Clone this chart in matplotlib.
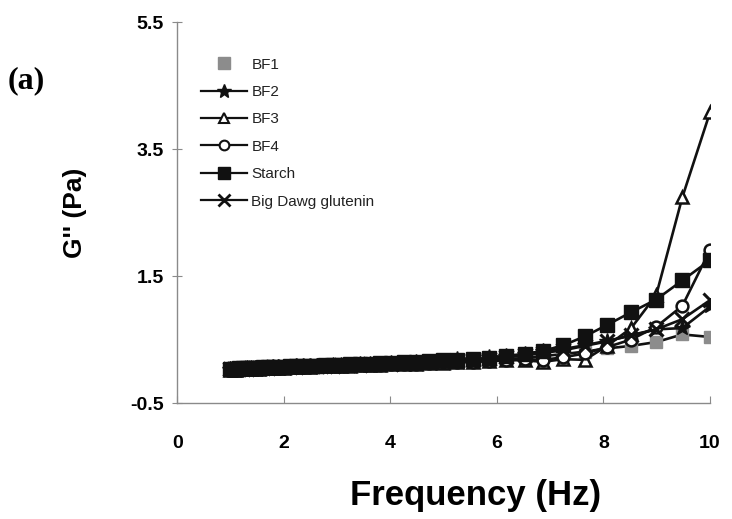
import matplotlib
matplotlib.use("Agg")
import matplotlib.pyplot as plt
from matplotlib.lines import Line2D

# frequency sweep (Hz), log spaced 1-10
freq = [1.00, 1.06, 1.11, 1.17, 1.24, 1.31, 1.38, 1.46, 1.54, 1.62, 1.71,
        1.80, 1.90, 2.01, 2.12, 2.23, 2.36, 2.49, 2.62, 2.77, 2.92, 3.08,
        3.25, 3.43, 3.62, 3.81, 4.02, 4.25, 4.48, 4.73, 4.99, 5.26, 5.55,
        5.85, 6.18, 6.52, 6.87, 7.25, 7.65, 8.07, 8.52, 8.99, 9.48, 10.00]

# G'' (Pa)
bf1 = [0.03, 0.03, 0.03, 0.035, 0.035, 0.04, 0.04, 0.045, 0.045, 0.05, 0.05,
       0.055, 0.06, 0.06, 0.065, 0.07, 0.07, 0.075, 0.08, 0.085, 0.09, 0.09,
       0.095, 0.10, 0.105, 0.11, 0.115, 0.12, 0.13, 0.135, 0.14, 0.15, 0.16,
       0.17, 0.19, 0.21, 0.24, 0.27, 0.31, 0.36, 0.40, 0.46, 0.58, 0.54]
bf2 = [0.03, 0.035, 0.035, 0.04, 0.04, 0.045, 0.045, 0.05, 0.05, 0.055, 0.055,
       0.06, 0.065, 0.065, 0.07, 0.075, 0.08, 0.08, 0.085, 0.09, 0.095, 0.10,
       0.10, 0.11, 0.115, 0.12, 0.125, 0.13, 0.14, 0.15, 0.16, 0.19, 0.17,
       0.22, 0.24, 0.27, 0.32, 0.35, 0.41, 0.48, 0.56, 0.66, 0.68, 1.02]
bf3 = [0.02, 0.025, 0.025, 0.03, 0.03, 0.035, 0.035, 0.04, 0.04, 0.045, 0.045,
       0.05, 0.05, 0.055, 0.06, 0.06, 0.065, 0.07, 0.075, 0.08, 0.08, 0.085,
       0.09, 0.095, 0.10, 0.105, 0.11, 0.115, 0.12, 0.13, 0.13, 0.14, 0.15,
       0.16, 0.18, 0.17, 0.15, 0.19, 0.18, 0.40, 0.68, 1.20, 2.74, 4.08]
bf4 = [0.025, 0.03, 0.03, 0.035, 0.035, 0.04, 0.04, 0.045, 0.045, 0.05, 0.05,
       0.055, 0.055, 0.06, 0.065, 0.065, 0.07, 0.075, 0.08, 0.08, 0.085, 0.09,
       0.095, 0.10, 0.10, 0.105, 0.11, 0.12, 0.12, 0.13, 0.14, 0.14, 0.15,
       0.16, 0.17, 0.19, 0.18, 0.22, 0.28, 0.38, 0.50, 0.70, 1.03, 1.91]
starch = [0.035, 0.04, 0.04, 0.045, 0.045, 0.05, 0.05, 0.055, 0.055, 0.06, 0.06,
          0.065, 0.07, 0.07, 0.075, 0.08, 0.085, 0.085, 0.09, 0.095, 0.10, 0.105,
          0.11, 0.115, 0.12, 0.125, 0.13, 0.14, 0.15, 0.16, 0.17, 0.18, 0.19,
          0.21, 0.24, 0.27, 0.32, 0.41, 0.55, 0.73, 0.93, 1.13, 1.43, 1.75]
glutenin = [0.03, 0.03, 0.035, 0.035, 0.04, 0.04, 0.045, 0.045, 0.05, 0.05, 0.055,
            0.06, 0.06, 0.065, 0.07, 0.07, 0.075, 0.08, 0.085, 0.09, 0.09, 0.095,
            0.10, 0.105, 0.11, 0.115, 0.12, 0.13, 0.135, 0.14, 0.15, 0.16, 0.18,
            0.19, 0.22, 0.25, 0.29, 0.33, 0.40, 0.47, 0.57, 0.66, 0.82, 1.12]

labels = ["BF1", "BF2", "BF3", "BF4", "Starch", "Big Dawg glutenin"]
xticks = [0, 2, 4, 6, 8, 10]
yticks = [-0.5, 1.5, 3.5, 5.5]

plt.rcParams['font.family'] = ['Liberation Sans', 'DejaVu Sans']

fig = plt.figure(figsize=(7.32, 5.19), dpi=100)
ax = fig.add_axes([0.242, 0.2235, 0.728, 0.734])

lw = 1.9
ms = 8.5
ax.plot(freq, bf1, color='#111111', lw=lw, marker='s', ms=ms, mfc='#8c8c8c',
        mec='#8c8c8c', zorder=2)
ax.plot(freq, bf2, color='#111111', lw=lw, marker='*', ms=ms + 3, mfc='#111111',
        mec='#111111', zorder=3)
ax.plot(freq, bf3, color='#111111', lw=lw, marker='^', ms=ms, mfc='white',
        mec='#111111', mew=1.8, zorder=3)
ax.plot(freq, bf4, color='#111111', lw=lw, marker='o', ms=ms, mfc='white',
        mec='#111111', mew=1.8, zorder=3)
ax.plot(freq, starch, color='#111111', lw=lw, marker='s', ms=ms + 1, mfc='#111111',
        mec='#111111', zorder=4)
ax.plot(freq, glutenin, color='#111111', lw=lw, marker='x', ms=ms + 1, mec='#111111',
        mew=2.2, zorder=3)

handles = [
    Line2D([], [], ls='none', marker='s', ms=8, mfc='#8c8c8c', mec='#8c8c8c'),
    Line2D([], [], color='#111111', lw=1.6, marker='*', ms=10, mfc='#111111', mec='#111111'),
    Line2D([], [], color='#111111', lw=1.6, marker='^', ms=7, mfc='white', mec='#111111', mew=1.5),
    Line2D([], [], color='#111111', lw=1.6, marker='o', ms=7, mfc='white', mec='#111111', mew=1.5),
    Line2D([], [], color='#111111', lw=1.6, marker='s', ms=8, mfc='#111111', mec='#111111'),
    Line2D([], [], color='#111111', lw=1.6, marker='x', ms=8, mec='#111111', mew=2),
]
ax.legend(handles, labels, loc='upper left', bbox_to_anchor=(0.033, 0.923),
          frameon=False, fontsize=11, handlelength=3.0, handletextpad=0.3,
          labelspacing=0.88, borderaxespad=0, labelcolor='#222222')

ax.set_xlim(0, 10)
ax.set_ylim(-0.5, 5.5)
ax.set_xticks(xticks)
ax.set_yticks(yticks)
ax.set_yticklabels(["-0.5", "1.5", "3.5", "5.5"])

for side in ['top', 'right']:
    ax.spines[side].set_visible(False)
for side in ['left', 'bottom']:
    ax.spines[side].set_color('#8a8a8a')
    ax.spines[side].set_linewidth(1.0)

ax.tick_params(axis='y', direction='inout', length=7, color='#8a8a8a',
               labelsize=14, pad=6)
ax.tick_params(axis='x', direction='in', length=5, color='#8a8a8a',
               labelsize=14, pad=23)
for t in ax.get_xticklabels() + ax.get_yticklabels():
    t.set_fontweight('bold')

ax.set_xlabel("Frequency (Hz)", fontsize=25, fontweight='bold')
ax.xaxis.set_label_coords(0.56, -0.2)
ax.set_ylabel("G'' (Pa)", fontsize=19, fontweight='bold', labelpad=31)

fig.text(0.011, 0.83, "(a)", fontsize=23, fontweight='bold',
         family='Liberation Serif')

fig.savefig("out.png", dpi=100)
